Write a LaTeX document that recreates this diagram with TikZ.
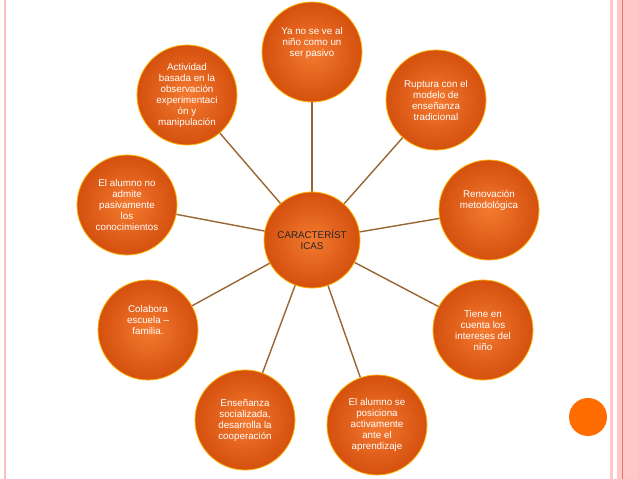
\documentclass[tikz,border=0pt]{standalone}
\usepackage{fontspec}
\setmainfont{Liberation Sans}
\definecolor{bin}{HTML}{F47A30}
\definecolor{bout}{HTML}{D4500E}
\begin{document}
\begin{tikzpicture}[x=1pt,y=-1pt,
  bub/.style={circle,minimum size=100pt,inner sep=0pt,draw=orange!60!yellow,line width=0.8pt,
    inner color=bin,outer color=bout,text=white,
    align=center,font=\fontsize{9.8}{11}\selectfont},
  spoke/.style={draw=brown!80!black,line width=1.4pt}]
\useasboundingbox (0,0) rectangle (638,479);
\fill[white] (0,0) rectangle (638,479);
\draw[red!25,line width=1.5pt] (5,0) -- (5,479);
\fill[red!22] (610,0) rectangle (613,479);
\fill[red!22] (617,0) rectangle (638,479);
\draw[red!50!brown!70,line width=0.8pt] (622,0) -- (622,479);
\fill[orange!85!red] (588,417) circle (19);
\node[bub] (t) at (312,52) {Ya no se ve al\\niño como un\\ser pasivo\\[10pt]};
\node[bub] (tr) at (436,100) {Ruptura con el\\modelo de\\enseñanza\\tradicional};
\node[bub] (r) at (489,210) {Renovación\\metodológica\\[10pt]};
\node[bub] (rl) at (483,330) {Tiene en\\cuenta los\\intereses del\\niño};
\node[bub] (br) at (377,425) {El alumno se\\posiciona\\activamente\\ante el\\aprendizaje};
\node[bub] (bl) at (245,420) {Enseñanza\\socializada,\\desarrolla la\\cooperación};
\node[bub] (ll) at (148,330) {Colabora\\escuela --\\familia.\\[10pt]};
\node[bub] (l) at (127,205) {El alumno no\\admite\\pasivamente\\los\\conocimientos};
\node[bub] (tl) at (187,95) {Actividad\\basada en la\\observación\\experimentaci\\ón y\\manipulación};
\foreach \n in {t,tr,r,rl,br,bl,ll,l,tl} \draw[spoke] (312,240) -- (\n);
\node[bub,minimum size=96pt,text=black!85] (c) at (312,240) {CARACTERÍST\\ICAS};
\end{tikzpicture}
\end{document}
